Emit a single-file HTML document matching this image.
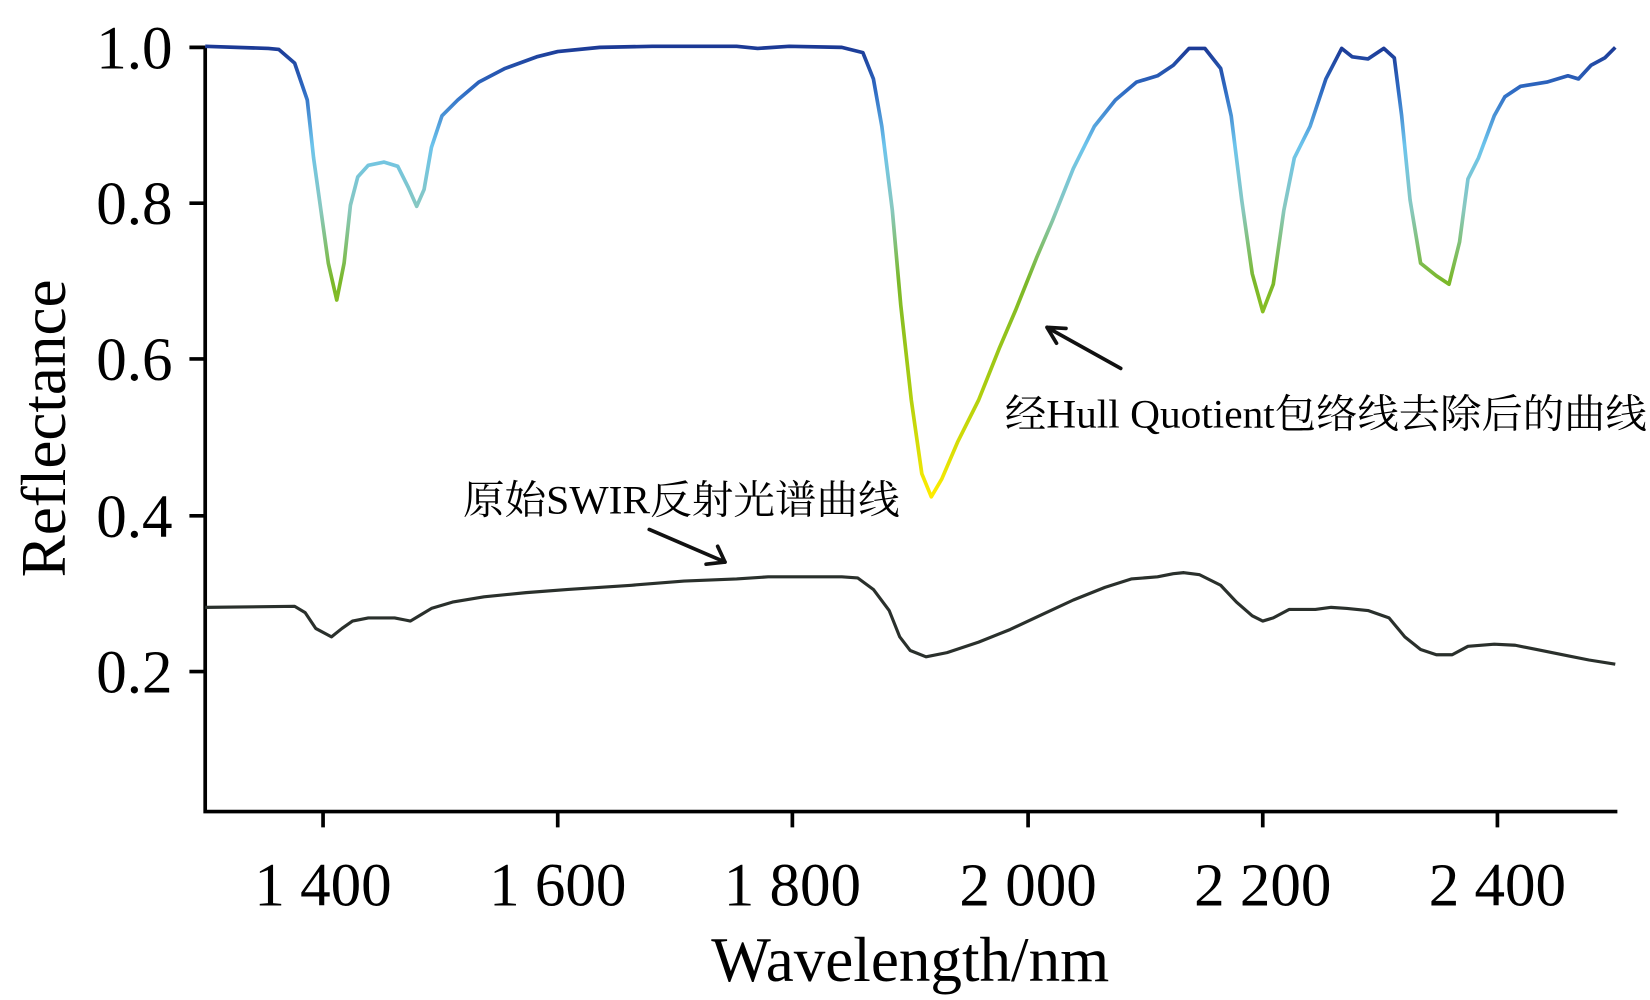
<!DOCTYPE html>
<html><head><meta charset="utf-8"><style>html,body{margin:0;padding:0;background:#fff}svg{display:block}</style></head>
<body>
<svg width="1650" height="1000" viewBox="0 0 1568 950" preserveAspectRatio="none" xmlns="http://www.w3.org/2000/svg" font-family="'Liberation Serif','Noto Serif CJK SC',serif">
<defs>
<linearGradient id="g" gradientUnits="userSpaceOnUse" x1="0" y1="44" x2="0" y2="472">
<stop offset="0" stop-color="#1b3995"/>
<stop offset="0.1" stop-color="#2f6cc4"/>
<stop offset="0.22" stop-color="#6cc4ec"/>
<stop offset="0.36" stop-color="#88c8c0"/>
<stop offset="0.52" stop-color="#7ab82a"/>
<stop offset="0.75" stop-color="#a8cc10"/>
<stop offset="1" stop-color="#ffec00"/>
</linearGradient>
</defs>
<g stroke="#000" stroke-width="3.5" fill="none">
<path d="M195 44 V771 H1537"/>
<path d="M180 45H195M180 193H195M180 341H195M180 490H195M180 638H195"/>
<path d="M307 771V786M530 771V786M753 771V786M977 771V786M1200 771V786M1423 771V786"/>
</g>
<g font-size="58" text-anchor="end">
<text x="164" y="65">1.0</text>
<text x="164" y="213">0.8</text>
<text x="164" y="361">0.6</text>
<text x="164" y="510">0.4</text>
<text x="164" y="658">0.2</text>
</g>
<g font-size="58" text-anchor="middle">
<text x="307" y="860">1 400</text>
<text x="530" y="860">1 600</text>
<text x="753" y="860">1 800</text>
<text x="977" y="860">2 000</text>
<text x="1200" y="860">2 200</text>
<text x="1423" y="860">2 400</text>
</g>
<text x="865" y="932" font-size="60" text-anchor="middle">Wavelength/nm</text>
<text transform="translate(62,407) rotate(-90)" font-size="60" text-anchor="middle">Reflectance</text>
<path fill="none" stroke="url(#g)" stroke-width="3.5" stroke-linejoin="round" d="M195 44 L255 46 265 47 280 60 292 95 298 150 305 200 312 250 320 285 327 250 333 195 340 168 350 157 365 154 378 158 388 178 396 196 403 180 410 140 420 110 435 95 455 78 480 65 510 54 530 49 570 45 620 44 700 44 720 46 750 44 800 45 820 50 830 75 838 120 848 200 856 290 866 380 876 450 885 472 895 455 910 420 930 380 950 330 965 295 985 245 1000 210 1020 160 1040 120 1060 95 1080 78 1100 72 1115 62 1130 46 1145 46 1160 65 1170 110 1180 190 1190 260 1200 296 1210 270 1220 200 1230 150 1245 120 1260 75 1275 46 1285 54 1300 56 1315 46 1325 55 1332 110 1340 190 1350 250 1365 262 1377 270 1387 230 1395 170 1405 150 1420 110 1430 92 1445 82 1470 78 1490 72 1500 75 1512 62 1525 55 1535 45"/>
<path fill="none" stroke="#2a302c" stroke-width="3" stroke-linejoin="round" d="M195 577 L280 576 290 582 300 597 315 605 325 597 335 590 350 587 375 587 385 589 390 590 400 584 410 578 430 572 460 567 500 563 540 560 600 556 650 552 700 550 730 548 800 548 815 549 830 560 845 580 855 605 865 618 880 624 900 620 930 610 960 598 990 584 1020 570 1050 558 1075 550 1100 548 1115 545 1125 544 1140 546 1160 556 1175 572 1190 585 1200 590 1210 587 1225 579 1250 579 1265 577 1280 578 1300 580 1320 587 1335 605 1350 617 1365 622 1380 622 1395 614 1420 612 1440 613 1460 617 1490 623 1510 627 1535 631"/>
<g stroke="#111" stroke-width="3.5" fill="none" stroke-linecap="round">
<path d="M1065 350 L995 311 M995 311 L1013 312 M995 311 L1004 326"/>
<path d="M617 503 L689 534 M689 534 L671 536 M689 534 L682 519"/>
</g>
<text x="955" y="406" font-size="38" textLength="610" lengthAdjust="spacingAndGlyphs">经Hull Quotient包络线去除后的曲线</text>
<text x="440" y="488" font-size="38" textLength="415" lengthAdjust="spacingAndGlyphs">原始SWIR反射光谱曲线</text>
</svg>
</body></html>
